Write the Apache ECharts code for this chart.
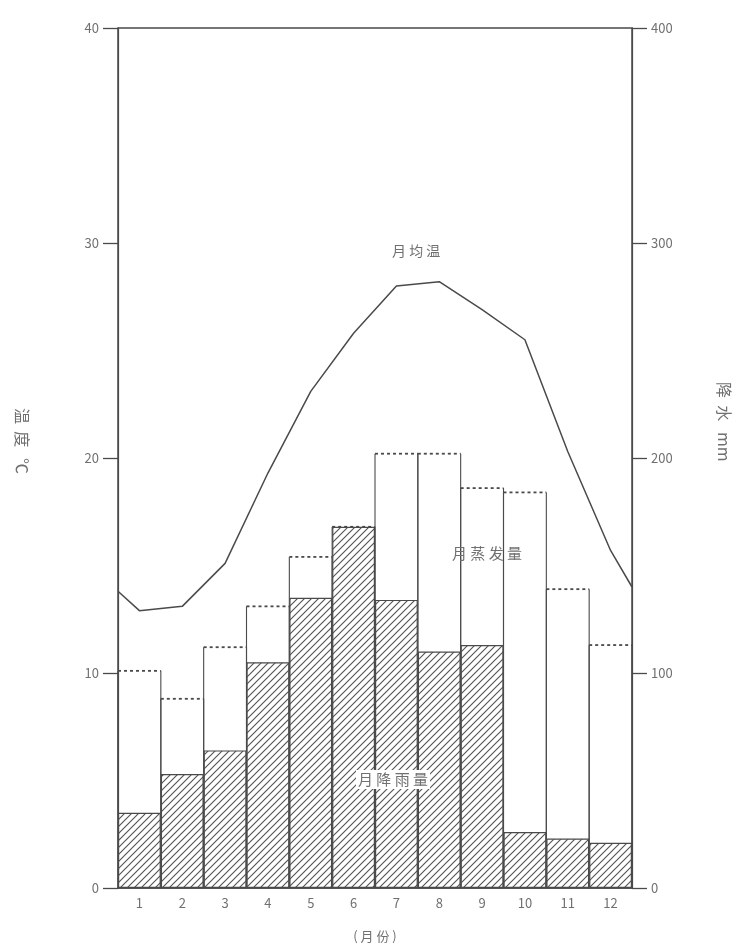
<!DOCTYPE html>
<html>
<head>
<meta charset="utf-8">
<script src="https://cdn.jsdelivr.net/npm/echarts@6/dist/echarts.min.js"></script>
<style>
html,body{margin:0;padding:0;background:#fff;}
#c{width:745px;height:948px;}
</style>
</head>
<body>
<div id="c"></div>
<script>
// ---- data ----
const months = ['1','2','3','4','5','6','7','8','9','10','11','12'];
const precipitation = [35, 53, 64, 105, 135, 168, 134, 110, 113, 26, 23, 21];      // mm, hatched
const evaporation   = [101, 88, 112, 131, 154, 168, 202, 202, 186, 184, 139, 113]; // mm, dashed top
const tempPos  = [0.5, 1, 2, 3, 4, 5, 6, 7, 8, 9, 10, 11, 12, 12.5];
const tempVals = [13.8, 12.9, 13.1, 15.1, 19.3, 23.1, 25.8, 28.0, 28.2, 26.9, 25.5, 20.3, 15.7, 14.0];
const leftTicks = [0, 10, 20, 30, 40];
const rightTicks = [0, 100, 200, 300, 400];

function hatch() {
  const s = 7;
  const c = document.createElement('canvas');
  c.width = s; c.height = s;
  const g = c.getContext('2d');
  g.fillStyle = '#fff';
  g.fillRect(0, 0, s, s);
  g.strokeStyle = '#555';
  g.lineWidth = 1.15;
  g.beginPath();
  g.moveTo(0, s); g.lineTo(s, 0);
  g.moveTo(-1, 1); g.lineTo(1, -1);
  g.moveTo(s - 1, s + 1); g.lineTo(s + 1, s - 1);
  g.stroke();
  return c;
}

const chart = echarts.init(document.getElementById('c'), null, {renderer: 'canvas'});
const lineCol = '#4a4a4a';
const txtCol = '#707070';
const font = '"Noto Sans CJK SC", "Noto Sans", sans-serif';

const option = {
  backgroundColor: '#fff',
  animation: false,
  grid: {left: 118, right: 113, top: 28, bottom: 60, show: true, borderColor: lineCol, borderWidth: 1.5},
  xAxis: [
    {
      type: 'category', data: months, boundaryGap: true,
      axisLine: {lineStyle: {color: lineCol, width: 1.5}},
      axisTick: {show: false},
      axisLabel: {color: txtCol, fontSize: 13, margin: 9, fontFamily: font},
      name: '( 月 份 )', nameLocation: 'middle', nameGap: 42,
      nameTextStyle: {color: txtCol, fontSize: 13, fontFamily: font}
    },
    {type: 'value', min: 0.5, max: 12.5, show: false}
  ],
  yAxis: [
    {
      type: 'value', min: 0, max: 40, interval: 10, position: 'left',
      axisLine: {show: true, lineStyle: {color: lineCol, width: 1.2}},
      axisTick: {show: true, length: 15, lineStyle: {color: lineCol, width: 1.3}},
      axisLabel: {color: txtCol, fontSize: 13, margin: 19, fontFamily: font,
        formatter: v => leftTicks.includes(v) ? String(v) : ''},
      splitLine: {show: false}
    },
    {
      type: 'value', min: 0, max: 400, interval: 100, position: 'right',
      axisLine: {show: true, lineStyle: {color: lineCol, width: 1.2}},
      axisTick: {show: true, length: 15, lineStyle: {color: lineCol, width: 1.3}},
      axisLabel: {color: txtCol, fontSize: 13, margin: 19, fontFamily: font,
        formatter: v => rightTicks.includes(v) ? String(v) : ''},
      splitLine: {show: false}
    }
  ],
  graphic: [
    {type: 'text', left: 14, top: 408, rotation: -Math.PI / 2,
      style: {text: '温  度   ℃', fill: txtCol, font: '16px ' + font}},
    {type: 'text', left: 716, top: 382, rotation: -Math.PI / 2,
      style: {text: '降  水   mm', fill: txtCol, font: '16px ' + font}},
    {type: 'text', left: 392, top: 244,
      style: {text: '月 均 温', fill: txtCol, font: '14px ' + font}},
    {type: 'text', left: 452, top: 546, z: 20,
      style: {text: '月 蒸 发 量', fill: txtCol, font: '15px ' + font}},
    {type: 'text', left: 356, top: 770, z: 20,
      style: {text: '月 降 雨 量', fill: txtCol, font: '15px ' + font,
        backgroundColor: '#fff', padding: [2, 2]}}
  ],
  series: [
    {
      name: '月蒸发量', type: 'custom', xAxisIndex: 0, yAxisIndex: 1, z: 2,
      data: evaporation.map((v, i) => [i, v]),
      renderItem: function (params, api) {
        const top = api.coord([api.value(0), api.value(1)]);
        const base = api.coord([api.value(0), 0]);
        const w = api.size([1, 0])[0];
        const l = top[0] - w / 2, r = top[0] + w / 2;
        return {
          type: 'group',
          children: [
            {type: 'line', shape: {x1: l, y1: base[1], x2: l, y2: top[1]}, style: {stroke: lineCol, lineWidth: 1.1}},
            {type: 'line', shape: {x1: r, y1: base[1], x2: r, y2: top[1]}, style: {stroke: lineCol, lineWidth: 1.1}},
            {type: 'line', shape: {x1: l, y1: top[1], x2: r, y2: top[1]}, style: {stroke: lineCol, lineWidth: 1.8, lineDash: [3, 3]}}
          ]
        };
      }
    },
    {
      name: '月降雨量', type: 'bar', xAxisIndex: 0, yAxisIndex: 1, z: 3,
      data: precipitation, barWidth: '100%',
      itemStyle: {color: {image: hatch(), repeat: 'repeat'}, borderColor: lineCol, borderWidth: 1.2}
    },
    {
      name: '月均温', type: 'line', xAxisIndex: 1, yAxisIndex: 0, z: 5,
      data: tempPos.map((x, i) => [x, tempVals[i]]),
      symbol: 'none', smooth: false,
      lineStyle: {color: lineCol, width: 1.5}
    }
  ]
};
chart.setOption(option);
</script>
</body>
</html>
